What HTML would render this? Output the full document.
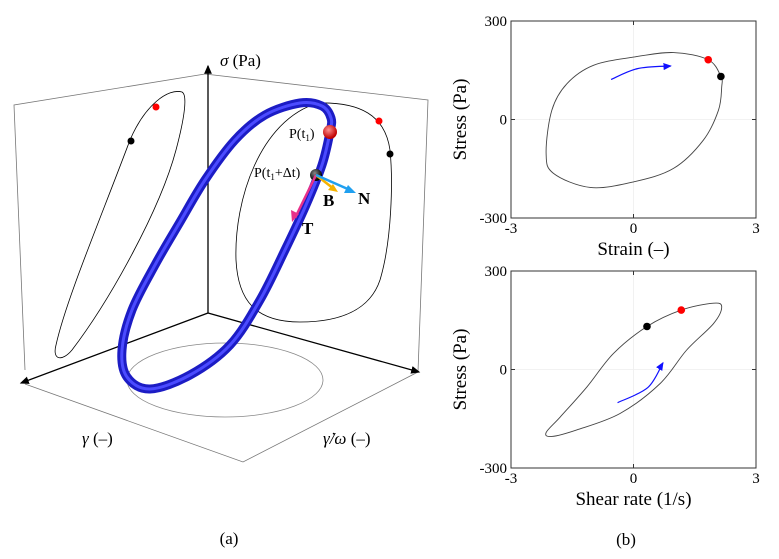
<!DOCTYPE html>
<html><head><meta charset="utf-8"><style>
html,body{margin:0;padding:0;background:#fff;}
svg{display:block;font-family:"Liberation Serif",serif;}
</style></head><body>
<svg id="fig" width="779" height="559" viewBox="0 0 779 559" xmlns="http://www.w3.org/2000/svg">
<defs>
<marker id="ah" markerWidth="8" markerHeight="8" refX="6" refY="4" orient="auto"><path d="M0,1 L7,4 L0,7 Z" fill="#000"/></marker>
<marker id="ahb" markerWidth="8" markerHeight="8" refX="6" refY="4" orient="auto"><path d="M0,1 L7,4 L0,7 Z" fill="#1010ff"/></marker>
<radialGradient id="rs" cx="0.4" cy="0.35" r="0.6"><stop offset="0" stop-color="#ff9090"/><stop offset="1" stop-color="#c00000"/></radialGradient>
<radialGradient id="bs" cx="0.4" cy="0.35" r="0.6"><stop offset="0" stop-color="#888"/><stop offset="1" stop-color="#000"/></radialGradient>
</defs>
<g>
  <g stroke="#777" stroke-width="0.8" fill="none">
    <path d="M25,370 L14,105 L205,74 L428,100 L418,372"/>
    <path d="M25,384 L243,462 L418,372"/>
  </g>
  <ellipse cx="225" cy="380" rx="98" ry="37" fill="none" stroke="#888" stroke-width="0.8"/>
  <path fill="none" stroke="#000" stroke-width="0.8" d="M182,92 C188,95 184,120 176,150 C160,210 110,300 72,350 C62,362 52,360 56,345 C66,300 100,220 130,140 C145,105 168,88 182,92 Z"/>
  <circle cx="156" cy="107" r="3.5" fill="#f00"/>
  <circle cx="131" cy="141" r="3.5" fill="#000"/>
  <path fill="none" stroke="#000" stroke-width="0.8" d="M318,103 C360,102 385,115 390,150 C393,180 392,240 380,280 C370,310 340,322 300,322 C255,322 238,300 236,260 C234,200 260,120 318,103 Z"/>
  <circle cx="379" cy="121" r="3.5" fill="#f00"/>
  <circle cx="390" cy="154" r="3.5" fill="#000"/>
  <g stroke="#000" stroke-width="1.3">
    <line x1="208" y1="313" x2="208" y2="66" marker-end="url(#ah)"/>
    <line x1="208" y1="313" x2="21" y2="383" marker-end="url(#ah)"/>
    <line x1="208" y1="313" x2="419" y2="372" marker-end="url(#ah)"/>
  </g>
  <g id="tubeg" fill="none" stroke-linecap="round" stroke-linejoin="round">
    <path id="tubeOuter" stroke="#1c1cc4" stroke-width="9"/>
    <path id="tubeInner" stroke="#4b4bff" stroke-width="3"/>
  </g>
  <circle cx="330" cy="132" r="7" fill="url(#rs)"/>
  <circle cx="316" cy="175" r="6" fill="url(#bs)"/>
  <g stroke-width="2.5">
    <line x1="316" y1="175" x2="295" y2="218" stroke="#e8308a"/><path d="M292,222 L291,210 L299,214 Z" fill="#e8308a"/>
    <line x1="316" y1="175" x2="334" y2="189" stroke="#f5b300"/><path d="M338,192 L328,190 L333,184 Z" fill="#f5b300"/>
    <line x1="316" y1="175" x2="350" y2="190" stroke="#20a0f0"/><path d="M356,193 L344,193 L348,185 Z" fill="#20a0f0"/>
  </g>
  <text x="289" y="138" font-size="14">P(t<tspan font-size="9" dy="3">1</tspan><tspan dy="-3">)</tspan></text>
  <text x="254" y="177" font-size="14">P(t<tspan font-size="9" dy="3">1</tspan><tspan dy="-3">+Δt)</tspan></text>
  <text x="323" y="206" font-size="17" font-weight="bold">B</text>
  <text x="358" y="204" font-size="17" font-weight="bold">N</text>
  <text x="302" y="234" font-size="17" font-weight="bold">T</text>
  <text x="220" y="66" font-size="17"><tspan font-style="italic">σ</tspan> (Pa)</text>
  <text x="82" y="444" font-size="17"><tspan font-style="italic">γ</tspan> (–)</text>
  <text x="323" y="444" font-size="17"><tspan font-style="italic">γ̇/ω</tspan> (–)</text>
  <text x="229" y="544" font-size="17" text-anchor="middle">(a)</text>
</g>
<g id="p1"></g>
<g id="p2"></g>
<text x="626" y="545" font-size="17" text-anchor="middle">(b)</text>
</svg>
<script>
const xTicks=[-3,0,3];
const yTicks=[-300,0,300];
const strainX=[0.98,0,-0.98,-1.63,-2.0,-2.14,-1.96,-1.06,0,0.98,1.71,2.08,2.16,2.14,1.83];
const strainY=[204,190,165,109,28,-103,-164,-207,-190,-149,-63,28,99,131,182];
const strainRed=[1.83,182];
const strainBlack=[2.14,131];
const strainArrowX=[-0.55,0.1,0.91];
const strainArrowY=[122,155,163];
const rateX=[1.96,2.16,1.96,1.30,0.65,-0.33,-1.39,-2.0,-2.14,-1.79,-1.14,-0.49,0.33,1.17];
const rateY=[202,190,140,59,-43,-134,-184,-204,-192,-144,-53,49,131,181];
const rateRed=[1.17,181];
const rateBlack=[0.33,131];
const rateArrowX=[-0.39,0.35,0.72];
const rateArrowY=[-101,-55,20];
const NS="http://www.w3.org/2000/svg";
function mk(p,t,a){const e=document.createElementNS(NS,t);for(const k in a)e.setAttribute(k,a[k]);p.appendChild(e);return e;}
function smooth(pts,closed){
  const n=pts.length;let d="M"+pts[0][0]+","+pts[0][1];
  const g=i=>closed?pts[(i+n)%n]:pts[Math.max(0,Math.min(n-1,i))];
  const m=closed?n:n-1;
  for(let i=0;i<m;i++){const p0=g(i-1),p1=g(i),p2=g(i+1),p3=g(i+2);
    d+=" C"+(p1[0]+(p2[0]-p0[0])/6)+","+(p1[1]+(p2[1]-p0[1])/6)+" "+(p2[0]-(p3[0]-p1[0])/6)+","+(p2[1]-(p3[1]-p1[1])/6)+" "+p2[0]+","+p2[1];}
  return d+(closed?" Z":"");
}
const tubePts=[[330,132],[322,165],[306,205],[285,250],[260,300],[230,345],[190,375],[150,389],[127,377],[122,350],[132,310],[155,265],[180,222],[205,180],[235,140],[265,115],[300,103],[322,106],[331,118]];
const td=smooth(tubePts,true);
document.getElementById("tubeOuter").setAttribute("d",td);
document.getElementById("tubeInner").setAttribute("d",td);
function plot(gid,top,bot,xs,ys,red,black,ax,ay,xlabel){
  const g=document.getElementById(gid);
  const L=511,R=756;
  const sx=v=>L+(v+3)/6*(R-L), sy=v=>bot-(v+300)/600*(bot-top);
  const gl=mk(g,"line",{x1:sx(0),x2:sx(0),y1:top,y2:bot,stroke:"#eee","stroke-width":0.8});
  
  
  const gl2=mk(g,"line",{x1:L,x2:R,y1:sy(0),y2:sy(0),stroke:"#eee","stroke-width":0.8});
  
  
  const box=mk(g,"rect",{x:L,y:top,width:R-L,height:bot-top,fill:"none",stroke:"#333","stroke-width":1});
  
  
  xTicks.forEach(v=>{
    mk(g,"line",{x1:sx(v),x2:sx(v),y1:top,y2:top+4,stroke:"#333"});
    mk(g,"line",{x1:sx(v),x2:sx(v),y1:bot,y2:bot-4,stroke:"#333"});
    const t=mk(g,"text",{x:sx(v),y:bot+15,"font-size":15,"text-anchor":"middle"});t.textContent=v;
    
    
  });
  yTicks.forEach(v=>{
    mk(g,"line",{x1:L,x2:L+4,y1:sy(v),y2:sy(v),stroke:"#333"});
    mk(g,"line",{x1:R,x2:R-4,y1:sy(v),y2:sy(v),stroke:"#333"});
    const t=mk(g,"text",{x:L-4,y:sy(v)+5,"font-size":15,"text-anchor":"end"});t.textContent=v;
    
    
  });
  const pts=xs.map((x,i)=>[sx(x),sy(ys[i])]);
  const c=mk(g,"path",{d:smooth(pts,true),fill:"none",stroke:"#444","stroke-width":0.9});
  
  
  const ap=ax.map((x,i)=>[sx(x),sy(ay[i])]);
  const a=mk(g,"path",{d:smooth(ap,false),fill:"none",stroke:"#1010ff","stroke-width":1.2,"marker-end":"url(#ahb)"});
  
  
  const r=mk(g,"circle",{cx:sx(red[0]),cy:sy(red[1]),r:3.8,fill:"#f00"});
  
  
  const b=mk(g,"circle",{cx:sx(black[0]),cy:sy(black[1]),r:3.8,fill:"#000"});
  
  
  const xl=mk(g,"text",{x:(L+R)/2,y:bot+37,"font-size":19,"text-anchor":"middle"});xl.textContent=xlabel;
  
  
  const cy=(top+bot)/2;
  const yl=mk(g,"text",{x:466,y:cy,"font-size":19,"text-anchor":"middle",transform:"rotate(-90 466 "+cy+")"});yl.textContent="Stress (Pa)";
  
  
}
plot("p1",21,218,strainX,strainY,strainRed,strainBlack,strainArrowX,strainArrowY,"Strain (–)");
plot("p2",271,468,rateX,rateY,rateRed,rateBlack,rateArrowX,rateArrowY,"Shear rate (1/s)");
</script>
</body></html>
